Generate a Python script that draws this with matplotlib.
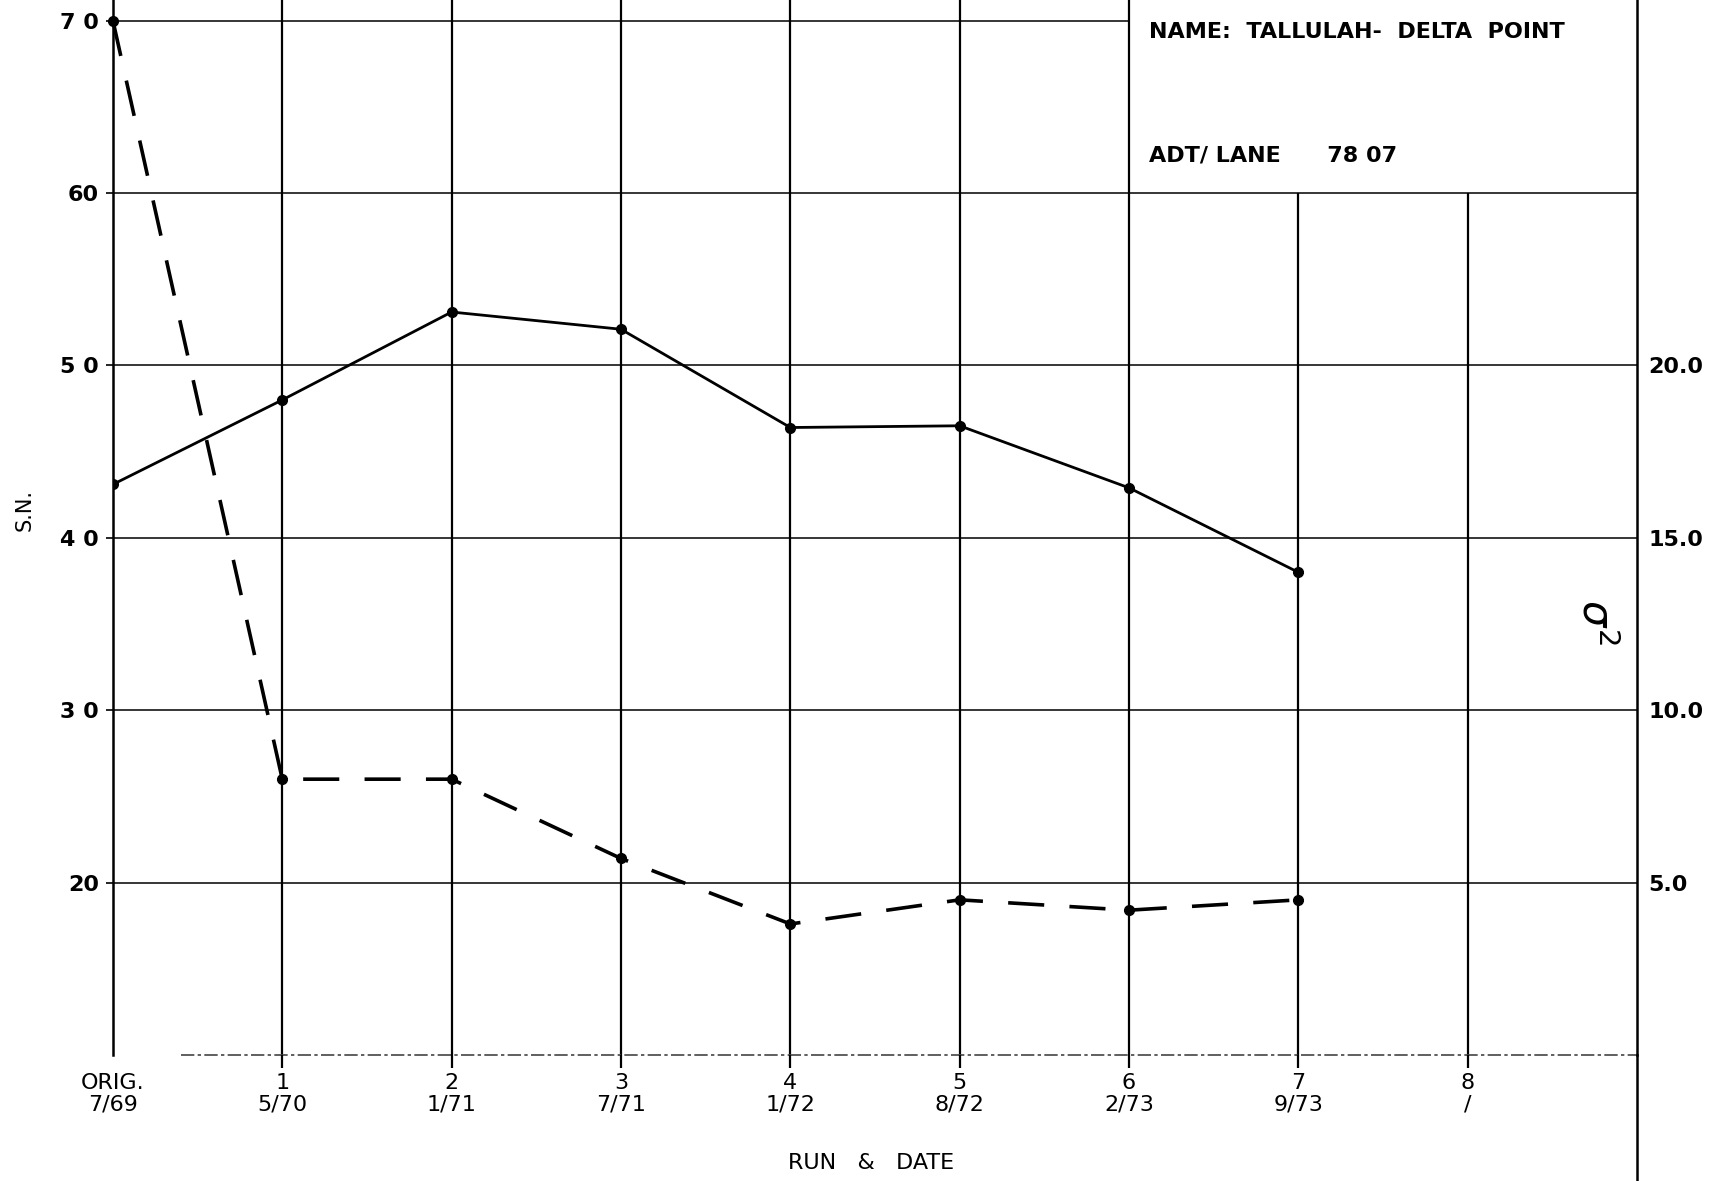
import matplotlib
matplotlib.use('Agg')
import matplotlib.pyplot as plt

plt.rcParams['font.family'] = ['Liberation Sans Narrow', 'DejaVu Sans']

# data
runs = ['ORIG.', '1', '2', '3', '4', '5', '6', '7', '8']
dates = ['7/69', '5/70', '1/71', '7/71', '1/72', '8/72', '2/73', '9/73', '/']
sn_values = [43.1, 48.0, 53.1, 52.1, 46.4, 46.5, 42.9, 38.0]
sigma2_values = [30.0, 8.0, 8.0, 5.7, 3.8, 4.5, 4.2, 4.5]

sn_ticks = [20, 30, 40, 50, 60, 70]
sn_tick_labels = ['20', '3 0', '4 0', '5 0', '60', '7 0']
sigma_ticks = [5, 10, 15, 20]
sigma_tick_labels = ['5.0', '10.0', '15.0', '20.0']

sn_lim = (10, 71.2)

fig = plt.figure(figsize=(17.32, 11.81), dpi=100)
ax = fig.add_axes([0.0652, 0.1067, 0.88, 0.8933])
ax.set_xlim(0, 9)
ax.set_ylim(*sn_lim)

# grid: the info box in the top right hides part of it
for y in sn_ticks:
    ax.hlines(y, 0, 6 if y == 70 else 9, color='black', lw=1.1, zorder=1)
for x in range(1, 9):
    top = 60 if x >= 7 else sn_lim[1]
    ax.vlines(x, sn_lim[0], top, color='black', lw=1.6, zorder=1)

# bottom line starts a bit right of the left axis
ax.hlines(sn_lim[0], 0.4, 9, color='#444444', lw=1.2, linestyles=(0, (8, 2, 2, 2)),
          clip_on=False, zorder=1)

for side in ['top', 'bottom']:
    ax.spines[side].set_visible(False)
ax.spines['left'].set_linewidth(1.8)
ax.spines['right'].set_linewidth(1.8)
ax.plot([1, 1], [-0.12, 0], transform=ax.transAxes, color='black', lw=1.8, clip_on=False)

ax.set_xticks(range(len(runs)))
ax.set_xticklabels([f'{r}\n{d}' for r, d in zip(runs, dates)], fontsize=16, linespacing=1.1)
ax.tick_params(axis='x', length=9, width=1.6, pad=4)
ax.xaxis.get_major_ticks()[0].tick1line.set_visible(False)

ax.set_yticks(sn_ticks)
ax.set_yticklabels(sn_tick_labels, fontsize=16, fontweight='bold')
ax.tick_params(axis='y', length=5, width=1.2, pad=5)

# S.N. line
ax.plot(range(len(sn_values)), sn_values, color='black', lw=2, marker='o', ms=7, zorder=3)

# sigma^2 on the right scale
ax2 = ax.twinx()
ax2.set_ylim(sn_lim[0] / 2 - 5, sn_lim[1] / 2 - 5)
for s in ax2.spines.values():
    s.set_visible(False)
ax2.set_yticks(sigma_ticks)
ax2.set_yticklabels(sigma_tick_labels, fontsize=16, fontweight='bold')
ax2.tick_params(axis='y', length=0, pad=8)
ax2.plot(range(len(sigma2_values)), sigma2_values, color='black', lw=2.6,
         linestyle=(0, (10, 7)), marker='o', ms=7, clip_on=False, zorder=3)

# info box text
ax.text(6.12, 69.35, 'NAME:  TALLULAH-  DELTA  POINT', fontsize=16, fontweight='bold', va='center')
ax.text(6.12, 62.2, 'ADT/ LANE      78 07', fontsize=16, fontweight='bold', va='center')

ax.text(8.75, 35.1, r'$\sigma^2$', fontsize=30, rotation=270, ha='center', va='center')

fig.text(0.014, 1 - 510 / 1181, 'S.N.', rotation=90, fontsize=15, ha='center', va='center')
fig.text(0.503, 0.0152, 'RUN   &   DATE', fontsize=16, ha='center', va='center')

fig.savefig('out.png', dpi=100)
